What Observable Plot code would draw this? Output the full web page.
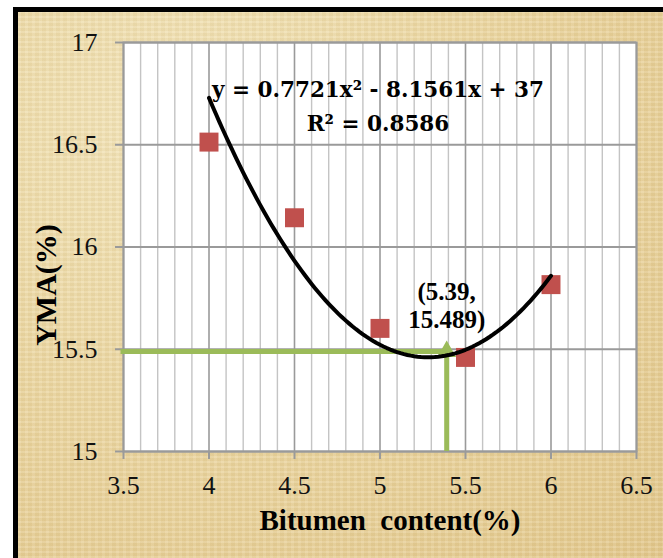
<!DOCTYPE html>
<html><head><meta charset="utf-8">
<script src="https://cdn.jsdelivr.net/npm/d3@7"></script>
<script src="https://cdn.jsdelivr.net/npm/@observablehq/plot@0.6"></script>
<style>
html,body{margin:0;padding:0;background:#fff;width:663px;height:558px;overflow:hidden}
#bg{position:absolute;left:13px;top:7px;width:650px;height:551px;box-sizing:border-box;
  border-left:5px solid #000;border-top:5px solid #000;
  background-color:#ebd59f;
  background-image:
    repeating-linear-gradient(0deg, rgba(255,255,255,0.10) 0 2px, rgba(120,90,30,0.035) 2px 5px),
    repeating-linear-gradient(90deg, rgba(255,255,255,0.08) 0 3px, rgba(120,90,30,0.03) 3px 7px),
    radial-gradient(ellipse at 25% 20%, #f3e5ba 0%, #ecd7a2 45%, #e3c88c 100%);
}
#chart{position:absolute;left:0;top:0}
#chart svg text{white-space:pre}
</style></head><body>
<div id="bg"></div><div id="chart"></div>
<script>
// data
const bitumen = [4, 4.5, 5, 5.5, 6];
const vma = [16.513, 16.143, 15.602, 15.46, 15.816];
const trendCoef = [0.7721, -8.1561, 37]; // y = a x^2 + b x + c (shown on chart)
const optimumX = 5.39;
const optimumY = 15.489;
const xTicks = [3.5, 4, 4.5, 5, 5.5, 6, 6.5];
const yTicks = [15, 15.5, 16, 16.5, 17];
const xMinor = [3.6,3.7,3.8,3.9,4.1,4.2,4.3,4.4,4.6,4.7,4.8,4.9,5.1,5.2,5.3,5.4,5.6,5.7,5.8,5.9,6.1,6.2,6.3,6.4];
const eqLines = ["y = 0.7721x² - 8.1561x + 37", "R² = 0.8586"];
const xTitle = "Bitumen  content(%)";
const yTitle = "YMA(%)";

const points = bitumen.map((x, i) => ({x, y: vma[i]}));
const xMin = d3.min(bitumen), xMax = d3.max(bitumen);
const curve = d3.range(0, 101).map(i => {
  const x = xMin + (xMax - xMin) * i / 100;
  return {x, y: trendCoef[0] * x * x + trendCoef[1] * x + trendCoef[2]};
});
const serif = "'Liberation Serif','Times New Roman',serif";
const green = "#9bbb59";

const chart = Plot.plot({
  width: 663, height: 558,
  marginLeft: 123, marginRight: 27, marginTop: 42, marginBottom: 107,
  x: {domain: [3.5, 6.5]},
  y: {domain: [15, 17]},
  style: {background: "transparent", fontFamily: serif, fontSize: "26px", color: "#000", overflow: "visible"},
  marks: [
    Plot.frame({fill: "#fff", stroke: null}),
    Plot.ruleX(xMinor, {stroke: "#c4c4c4", strokeWidth: 1.4}),
    Plot.ruleX(xTicks, {stroke: "#9a9a9a", strokeWidth: 1.6}),
    Plot.ruleY(yTicks, {stroke: "#9a9a9a", strokeWidth: 2}),
    Plot.frame({stroke: "#9a9a9a", strokeWidth: 2}),
    Plot.axisX({ticks: xTicks, tickSize: 8, tickPadding: 16, tickFormat: d => String(d), stroke: "#9a9a9a", strokeWidth: 2, fill: "#111", fontSize: 26, fontFamily: serif, label: null}),
    Plot.axisY({ticks: yTicks, tickSize: 8, tickPadding: 18, tickFormat: d => String(d), stroke: "#9a9a9a", strokeWidth: 2, fill: "#111", fontSize: 26, fontFamily: serif, label: null}),
    Plot.ruleY([optimumY], {x1: 3.5, x2: optimumX, stroke: green, strokeWidth: 5, strokeLinecap: "square"}),
    Plot.ruleX([optimumX], {y1: 15, y2: optimumY, stroke: green, strokeWidth: 5}),
    Plot.dot([{x: optimumX, y: optimumY}], {x: "x", y: "y", symbol: "triangle", r: 7, fill: green, stroke: null}),
    Plot.dot(points, {x: "x", y: "y", symbol: "square", r: 10.7, fill: "#c0504d", stroke: null}),
    Plot.line(curve, {x: "x", y: "y", stroke: "#000", strokeWidth: 4, curve: "linear"}),
    Plot.text([eqLines.join("\n")], {frameAnchor: "top", lineAnchor: "top", dy: 30, dx: -2, fontFamily: "'DejaVu Serif', serif", fontWeight: "bold", fontSize: 21.5, lineHeight: 1.6, fill: "#000"}),
    Plot.text([{x: optimumX, y: optimumY}], {x: "x", y: "y", text: d => `(${d.x},\n${d.y})`, lineAnchor: "top", dy: -72, fontSize: 25, fontWeight: "bold", lineHeight: 1.13, fontFamily: serif, fill: "#000"}),
    Plot.text([xTitle], {frameAnchor: "bottom", lineAnchor: "top", dy: 58, dx: 10, fontSize: 29, fontWeight: "bold", fontFamily: serif, fill: "#000"}),
    Plot.text([yTitle], {frameAnchor: "left", rotate: -90, textAnchor: "middle", lineAnchor: "middle", dx: -77, dy: 38, fontSize: 30, fontWeight: "bold", fontFamily: serif, fill: "#000"})
  ]
});
document.getElementById("chart").appendChild(chart);
</script>
</body></html>
